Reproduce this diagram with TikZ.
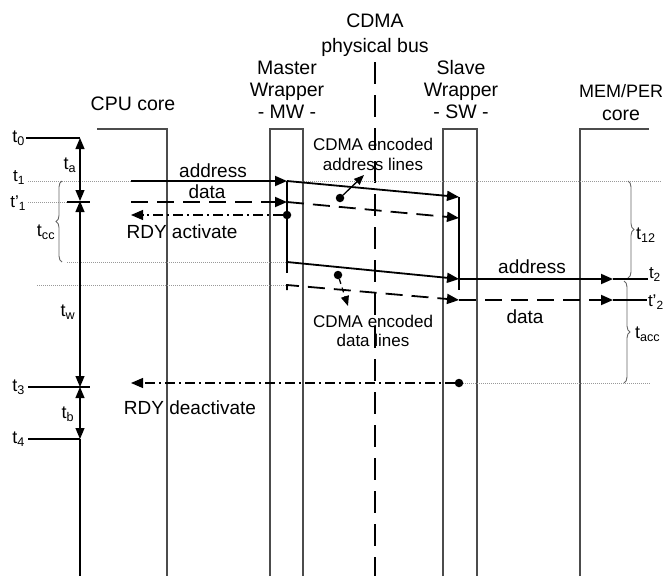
\documentclass[tikz,border=0pt]{standalone}
\usepackage{fontspec}
\setmainfont{Liberation Sans}
\usetikzlibrary{arrows.meta,decorations.pathreplacing}
\newcommand{\ts}[1]{t\smash{\textsubscript{#1}}}
\newcommand{\tp}[1]{t’\smash{\textsubscript{#1}}}
\begin{document}
\begin{tikzpicture}[x=1pt,y=-1pt,
  every node/.style={inner sep=0pt,outer sep=0pt},
  hdr/.style={font=\fontsize{19.5}{22}\selectfont,anchor=base},
  siglbl/.style={font=\fontsize{19}{22}\selectfont,anchor=base},
  enclbl/.style={font=\fontsize{17}{20}\selectfont,anchor=base},
  tlbl/.style={font=\fontsize{18}{21}\selectfont},
  tsm/.style={font=\fontsize{17}{20}\selectfont},
  lane/.style={draw=black!70,line width=1.1pt},
  guide/.style={draw=black!40,line width=0.6pt,dash pattern=on 1pt off 1pt},
  tip/.style={-{Triangle[length=12pt,width=10pt]}},
  sigsolid/.style={line width=1.8pt},
  sigdash/.style={line width=1.8pt,dash pattern=on 17pt off 9pt},
  rdy/.style={line width=1.2pt,dash pattern=on 10pt off 4pt on 2pt off 4pt},
  axis/.style={line width=1.2pt},
  tarr/.style={{Triangle[length=11pt,width=9pt]}-{Triangle[length=11pt,width=9pt]}},
  tick/.style={line width=1.1pt},
  bus/.style={line width=2pt,dash pattern=on 22pt off 11pt},
  brc/.style={draw=black!60,line width=0.9pt,decorate,decoration={brace,amplitude=6pt}},
  dotc/.style={circle,fill=black,minimum size=8.5pt},
  pointer/.style={line width=1.3pt,-{Triangle[length=10pt,width=8pt]}}
]
\useasboundingbox (0,0) rectangle (663,576);

% ---- headers
\node[hdr] (h1) at (375,27) {CDMA};
\node[hdr] (h2) at (375,52) {physical bus};
\node[hdr] (mw1) at (287,74) {Master};
\node[hdr] (mw2) at (287,96) {Wrapper};
\node[hdr] (mw3) at (287,118) {- MW -};
\node[hdr] (sw1) at (461,74) {Slave};
\node[hdr] (sw2) at (461,96) {Wrapper};
\node[hdr] (sw3) at (461,118) {- SW -};
\node[hdr] (cpu) at (133,110) {CPU core};
\node[hdr,font=\fontsize{18}{21}\selectfont] (mem1) at (621,97) {MEM/PER};
\node[hdr] (mem2) at (621,120) {core};

% ---- lanes
\draw[lane] (97,129) -- (167,129) -- (167,576);
\draw[lane] (270,576) -- (270,129) -- (303,129) -- (303,576);
\draw[lane] (443,576) -- (443,129) -- (477,129) -- (477,576);
\draw[lane] (580,576) -- (580,129) -- (649,129);
\draw[bus] (375,62) -- (375,576);

% ---- guide lines
\draw[guide] (28,181) -- (662,181);
\draw[guide] (28,202) -- (67,202);
\draw[guide] (67,262) -- (287,262);
\draw[guide] (37,285) -- (287,285);
\draw[guide] (459,383) -- (650,383);

% ---- time axis
\coordinate (T0) at (80,138);
\coordinate (T1) at (80,201);
\coordinate (T3) at (80,387);
\coordinate (T4) at (80,439);
\coordinate (Tend) at (80,576);
\draw[axis,tarr] (T1) -- (T0);
\draw[axis,tarr] (T1) -- (T3);
\draw[axis,tarr] (T3) -- (T4);
\draw[axis] (T4) -- (Tend);
\draw[tick] (26,138) -- (T0);
\draw[tick] (67,202) -- (90,202);
\draw[tick] (28,387) -- (90,387);
\draw[tick] (28,439) -- (T4);

\node[tlbl,anchor=east] (lt0) at (25,137) {\ts{0}};
\node[tsm,anchor=east] (lt1) at (25,176) {\ts{1}};
\node[tsm,anchor=east] (lt1p) at (26,202) {\tp{1}};
\node[tlbl,anchor=east] (lt3) at (25,386) {\ts{3}};
\node[tlbl,anchor=east] (lt4) at (25,438) {\ts{4}};
\node[tlbl] (lta) at (70,164) {\ts{a}};
\node[tlbl] (ltw) at (68,311) {\ts{w}};
\node[tlbl] (ltb) at (68,413) {\ts{b}};
\node[tlbl] (ltcc) at (46,231) {\ts{cc}};

\draw[brc] (62,262) -- (62,181);
\draw[brc] (628,181) -- (628,278);
\draw[brc] (624,281) -- (624,383);
\node[tlbl,anchor=west] (lt12) at (636,234) {\ts{12}};
\node[tlbl,anchor=west] (ltacc) at (635,333) {\ts{acc}};
\node[tsm,anchor=west] (lt2) at (649,273) {\ts{2}};
\node[tsm,anchor=west] (lt2p) at (648,301) {\tp{2}};

% ---- signal coordinates
\coordinate (cpuA) at (131,181);
\coordinate (mwA) at (287,181);
\coordinate (cpuD) at (131,202);
\coordinate (mwD) at (287,202);
\coordinate (swA1) at (459,197);
\coordinate (swD1) at (459,218);
\coordinate (mwA2) at (287,262);
\coordinate (mwVb) at (287,273);
\coordinate (swA2) at (459,279);
\coordinate (swVb) at (459,290);
\coordinate (mwD2) at (287,285);
\coordinate (mwD2t) at (287,290);
\coordinate (swD2) at (459,300);
\coordinate (memA) at (613,279);
\coordinate (memD) at (613,300);
\coordinate (t2e) at (648,279);
\coordinate (t2pe) at (647,300);
\coordinate (cpuR1) at (131,215);
\coordinate (cpuR2) at (131,383);

% ---- signals
\draw[sigsolid,tip] (cpuA) -- (mwA);
\draw[sigdash,tip] (cpuD) -- (mwD);
\draw[sigsolid] (mwA) -- (mwVb);
\draw[sigsolid,tip] (mwA) -- (swA1);
\draw[sigdash,tip] (mwD) -- (swD1);
\draw[sigsolid,tip] (mwA2) -- (swA2);
\draw[sigdash,tip] (mwD2t) -- (mwD2) -- (swD2);
\draw[sigsolid] (swA1) -- (swVb);
\draw[sigsolid,tip] (swA2) -- (memA);
\draw[sigdash,tip] (swD2) -- (memD);
\draw[tick] (memA) -- (t2e);
\draw[tick] (memD) -- (t2pe);

\node[dotc] (r1) at (287,215) {};
\node[dotc] (r2) at (459,383) {};
\draw[rdy,tip] (r1) -- (cpuR1);
\draw[rdy,tip] (r2) -- (cpuR2);

% ---- labels on signals
\node[siglbl] (la) at (213,177) {address};
\node[siglbl] (ld) at (207,198) {data};
\node[siglbl] (lr1) at (182,238) {RDY activate};
\node[siglbl] (lr2) at (190,414) {RDY deactivate};
\node[siglbl] (la2) at (532,273) {address};
\node[siglbl] (ld2) at (525,323) {data};

% ---- encoded line labels
\node[enclbl] (e1) at (373,150) {CDMA encoded};
\node[enclbl] (e2) at (373,170) {address lines};
\node[enclbl] (e3) at (373,327) {CDMA encoded};
\node[enclbl] (e4) at (373,346) {data lines};

\node[dotc] (pa) at (340,198) {};
\coordinate (pat) at (364,175);
\draw[pointer] (pa) -- (pat);
\node[dotc] (pd) at (338,275) {};
\coordinate (pdt) at (348,306);
\draw[pointer,dash pattern=on 5pt off 4pt] (pd) -- (pdt);
\end{tikzpicture}
\end{document}
